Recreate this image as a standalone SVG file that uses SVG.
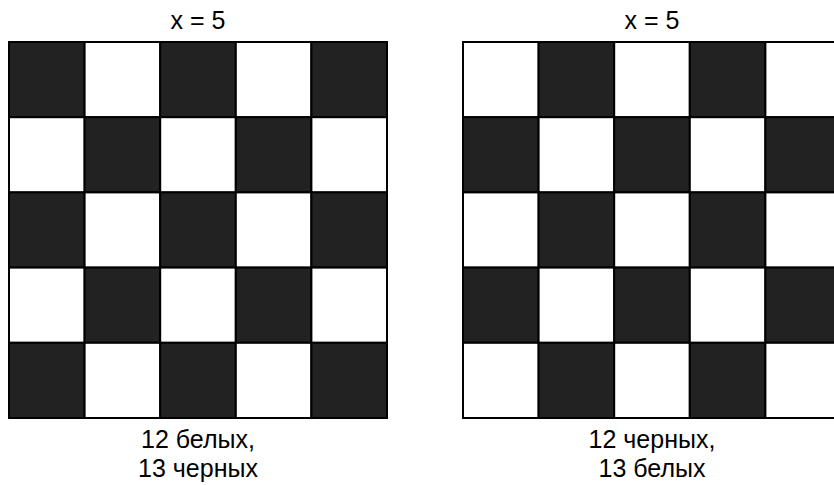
<svg xmlns="http://www.w3.org/2000/svg" width="834" height="485" viewBox="0 0 834 485">
<style>
.b{fill:#222222;stroke:#000;stroke-width:2}
.w{fill:#ffffff;stroke:#000;stroke-width:2}
.t{font-family:"Liberation Sans",Arial,sans-serif;font-size:25px;fill:#000;text-anchor:middle}
</style>
<rect width="834" height="485" fill="#fff"/>
<g id="left-board">
<rect class="b" x="9" y="42" width="75.6" height="75.2"/>
<rect class="w" x="84.6" y="42" width="75.6" height="75.2"/>
<rect class="b" x="160.2" y="42" width="75.6" height="75.2"/>
<rect class="w" x="235.8" y="42" width="75.6" height="75.2"/>
<rect class="b" x="311.4" y="42" width="75.6" height="75.2"/>
<rect class="w" x="9" y="117.2" width="75.6" height="75.2"/>
<rect class="b" x="84.6" y="117.2" width="75.6" height="75.2"/>
<rect class="w" x="160.2" y="117.2" width="75.6" height="75.2"/>
<rect class="b" x="235.8" y="117.2" width="75.6" height="75.2"/>
<rect class="w" x="311.4" y="117.2" width="75.6" height="75.2"/>
<rect class="b" x="9" y="192.4" width="75.6" height="75.2"/>
<rect class="w" x="84.6" y="192.4" width="75.6" height="75.2"/>
<rect class="b" x="160.2" y="192.4" width="75.6" height="75.2"/>
<rect class="w" x="235.8" y="192.4" width="75.6" height="75.2"/>
<rect class="b" x="311.4" y="192.4" width="75.6" height="75.2"/>
<rect class="w" x="9" y="267.6" width="75.6" height="75.2"/>
<rect class="b" x="84.6" y="267.6" width="75.6" height="75.2"/>
<rect class="w" x="160.2" y="267.6" width="75.6" height="75.2"/>
<rect class="b" x="235.8" y="267.6" width="75.6" height="75.2"/>
<rect class="w" x="311.4" y="267.6" width="75.6" height="75.2"/>
<rect class="b" x="9" y="342.8" width="75.6" height="75.2"/>
<rect class="w" x="84.6" y="342.8" width="75.6" height="75.2"/>
<rect class="b" x="160.2" y="342.8" width="75.6" height="75.2"/>
<rect class="w" x="235.8" y="342.8" width="75.6" height="75.2"/>
<rect class="b" x="311.4" y="342.8" width="75.6" height="75.2"/>
<text class="t" x="198" y="29">x = 5</text>
<text class="t" x="198" y="448">12 белых,</text>
<text class="t" x="198" y="477">13 черных</text>
</g>
<g id="right-board">
<rect class="w" x="463" y="42" width="75.6" height="75.2"/>
<rect class="b" x="538.6" y="42" width="75.6" height="75.2"/>
<rect class="w" x="614.2" y="42" width="75.6" height="75.2"/>
<rect class="b" x="689.8" y="42" width="75.6" height="75.2"/>
<rect class="w" x="765.4" y="42" width="75.6" height="75.2"/>
<rect class="b" x="463" y="117.2" width="75.6" height="75.2"/>
<rect class="w" x="538.6" y="117.2" width="75.6" height="75.2"/>
<rect class="b" x="614.2" y="117.2" width="75.6" height="75.2"/>
<rect class="w" x="689.8" y="117.2" width="75.6" height="75.2"/>
<rect class="b" x="765.4" y="117.2" width="75.6" height="75.2"/>
<rect class="w" x="463" y="192.4" width="75.6" height="75.2"/>
<rect class="b" x="538.6" y="192.4" width="75.6" height="75.2"/>
<rect class="w" x="614.2" y="192.4" width="75.6" height="75.2"/>
<rect class="b" x="689.8" y="192.4" width="75.6" height="75.2"/>
<rect class="w" x="765.4" y="192.4" width="75.6" height="75.2"/>
<rect class="b" x="463" y="267.6" width="75.6" height="75.2"/>
<rect class="w" x="538.6" y="267.6" width="75.6" height="75.2"/>
<rect class="b" x="614.2" y="267.6" width="75.6" height="75.2"/>
<rect class="w" x="689.8" y="267.6" width="75.6" height="75.2"/>
<rect class="b" x="765.4" y="267.6" width="75.6" height="75.2"/>
<rect class="w" x="463" y="342.8" width="75.6" height="75.2"/>
<rect class="b" x="538.6" y="342.8" width="75.6" height="75.2"/>
<rect class="w" x="614.2" y="342.8" width="75.6" height="75.2"/>
<rect class="b" x="689.8" y="342.8" width="75.6" height="75.2"/>
<rect class="w" x="765.4" y="342.8" width="75.6" height="75.2"/>
<text class="t" x="652" y="29">x = 5</text>
<text class="t" x="652" y="448">12 черных,</text>
<text class="t" x="652" y="477">13 белых</text>
</g>
<g id="connectors"/>
</svg>
